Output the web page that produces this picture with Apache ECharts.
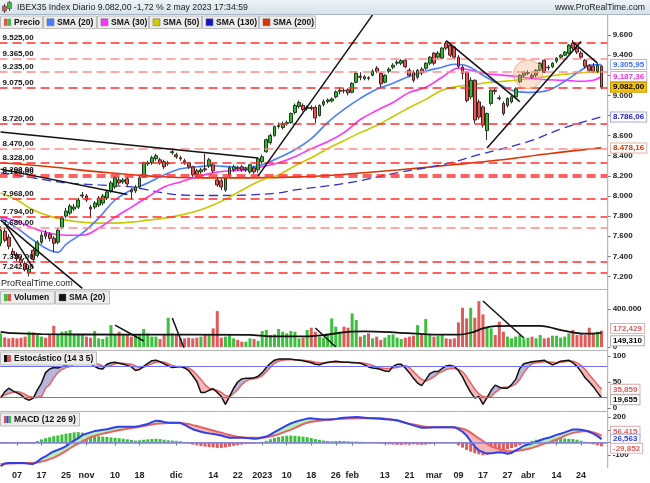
<!DOCTYPE html>
<html><head><meta charset="utf-8">
<script src="https://cdn.jsdelivr.net/npm/echarts@6/dist/echarts.min.js"></script>
<style>html,body{margin:0;padding:0;background:#fff}#c{width:650px;height:483px}</style>
</head><body><div id="c"></div><script>
// ---------- DATA ----------
const oct22=[3,4,5,6,7,10,11,12,13,14,17,18,19,20,21,24,25,26,27,28,31];
const nov22=[1,2,3,4,7,8,9,10,11,14,15,16,17,18,21,22,23,24,25,28,29,30];
const dec22=[1,2,5,6,7,8,9,12,13,14,15,16,19,20,21,22,23,27,28,29,30];
const jan23=[2,3,4,5,6,9,10,11,12,13,16,17,18,19,20,23,24,25,26,27,30,31];
const feb23=[1,2,3,6,7,8,9,10,13,14,15,16,17,20,21,22,23,24,27,28];
const mar23=[1,2,3,6,7,8,9,10,13,14,15,16,17,20,21,22,23,24,27,28,29,30,31];
const apr23=[3,4,5,6,11,12,13,14,17,18,19,20,21,24,25,26,27,28];
const may23=[2];

const xTickDates=['2022-10-07','2022-10-17','2022-10-25','2022-11-01','2022-11-10','2022-11-18','2022-12-01','2022-12-14','2022-12-22','2023-01-02','2023-01-10','2023-01-18','2023-01-26','2023-02-01','2023-02-13','2023-02-21','2023-03-01','2023-03-09','2023-03-17','2023-03-27','2023-04-03','2023-04-14','2023-04-24'];
const xTickLabels=['07','17','25','nov','10','18','dic','14','22','2023','10','18','26','feb','13','21','mar','09','17','27','abr','14','24'];

const open=[7530,7650,7590,7450,7420,7370,7330,7240,7460,7410,
7540,7630,7620,7580,7540,7690,7800,7830,7870,7890,
8000,8000,7890,7890,7910,7930,7980,8050,8090,8160,
8140,8170,8060,8050,8090,8190,8320,8330,8370,8360,
8340,8320,8430,8410,8380,8350,8330,8290,8250,8240,
8270,8300,8310,8160,8150,8060,8210,8260,8280,8290,
8260,8240,8280,8260,8340,8440,8530,8600,8690,8680,
8720,8730,8830,8890,8900,8870,8880,8880,8800,8910,
8940,8945,8985,9040,9050,9055,9030,9130,9190,9165,
9175,9200,9270,9220,9130,9240,9280,9320,9320,9350,
9250,9230,9180,9260,9270,9320,9420,9380,9370,9520,
9500,9480,9380,9280,9230,8985,9150,8935,8885,8650,
8920,9050,8975,8920,8900,8935,8985,9135,9200,9220,
9200,9200,9250,9350,9280,9285,9340,9380,9400,9420,
9520,9470,9420,9350,9300,9290,9240,9290];
const close=[7660,7560,7500,7420,7380,7340,7270,7270,7370,7540,
7610,7600,7580,7530,7660,7780,7850,7900,7890,7960,
8010,7960,7870,7930,7980,8000,8040,8130,8180,8130,
8160,8120,8040,8090,8180,8330,8330,8380,8400,8330,
8290,8330,8440,8390,8370,8330,8290,8210,8210,8260,
8260,8360,8250,8110,8090,8170,8280,8290,8270,8260,
8270,8310,8240,8370,8390,8560,8600,8690,8700,8720,
8730,8820,8900,8930,8860,8880,8870,8775,8900,8940,
8955,8965,9035,9050,9045,9025,9120,9220,9180,9185,
9170,9240,9240,9115,9200,9260,9300,9330,9345,9285,
9200,9150,9250,9225,9320,9380,9320,9420,9470,9470,
9400,9380,9290,9220,8950,9150,8755,8785,8705,8820,
9050,9040,8970,8820,8970,8985,9065,9200,9230,9225,
9180,9250,9320,9230,9275,9320,9370,9400,9430,9500,
9470,9430,9380,9290,9250,9240,9300,9082];
const low=[7500,7540,7470,7390,7350,7310,7250,7200,7340,7390,
7520,7570,7550,7440,7520,7670,7780,7810,7850,7870,
7980,7940,7780,7870,7890,7910,7960,8030,8070,8110,
8120,8100,7960,8030,8070,8180,8300,8310,8350,8310,
8270,8300,8410,8370,8350,8310,8270,8190,8190,8220,
8240,8280,8230,8090,8060,8040,8190,8240,8250,8240,
8240,8220,8220,8230,8320,8430,8510,8590,8670,8660,
8700,8720,8810,8870,8840,8850,8850,8725,8790,8890,
8920,8930,8970,9010,9020,9000,9020,9120,9150,9150,
9150,9190,9220,9075,9120,9220,9260,9300,9300,9270,
9180,9130,9160,9200,9250,9300,9300,9360,9360,9450,
9380,9360,9270,9160,8930,8960,8720,8760,8680,8556,
8900,9010,8950,8800,8880,8920,8970,9120,9180,9200,
9160,9180,9240,9220,9250,9270,9320,9360,9390,9410,
9450,9410,9360,9270,9230,9220,9220,9060];
const high=[7700,7690,7620,7480,7440,7400,7350,7300,7480,7560,
7640,7660,7640,7600,7680,7800,7880,7920,7920,7980,
8040,8020,7910,7950,8000,8020,8060,8150,8200,8190,
8180,8190,8080,8110,8200,8340,8350,8400,8420,8380,
8360,8350,8470,8430,8400,8370,8340,8300,8270,8280,
8420,8380,8330,8180,8170,8180,8300,8310,8300,8310,
8290,8320,8300,8380,8410,8570,8620,8700,8730,8740,
8750,8830,8920,8950,8920,8900,8900,8900,8910,8960,
8970,8980,9050,9080,9070,9070,9130,9240,9230,9200,
9190,9260,9290,9230,9210,9280,9320,9350,9360,9370,
9270,9250,9260,9280,9330,9390,9430,9440,9480,9540,
9510,9490,9400,9300,9240,9180,9160,8960,8900,8830,
9060,9070,9000,8940,8980,9000,9080,9210,9240,9250,
9220,9260,9330,9360,9300,9330,9380,9410,9440,9510,
9550,9480,9440,9360,9310,9320,9320,9300];

const sma20=[[0,7780],[4,7680],[8,7560],[12,7460],[14,7440],[16,7520],[20,7630],[24,7780],[28,7960],[32,8060],[36,8130],[40,8210],[44,8270],[48,8290],[52,8300],[56,8290],[60,8280],[64,8310],[68,8380],[72,8460],[76,8570],[80,8730],[84,8860],[88,8970],[92,9060],[96,9120],[100,9190],[104,9240],[108,9280],[111,9310],[114,9295],[118,9200],[122,9110],[126,9040],[130,9030],[134,9050],[138,9140],[142,9250],[145,9305],[147,9305.95]];
const sma30=[[0,7790],[4,7750],[8,7680],[12,7630],[16,7610],[20,7610],[24,7680],[28,7790],[32,7890],[36,7990],[40,8090],[44,8140],[48,8190],[52,8230],[56,8250],[60,8260],[64,8290],[68,8330],[72,8390],[76,8470],[80,8540],[84,8630],[88,8760],[92,8850],[96,8930],[100,9030],[104,9080],[108,9180],[112,9270],[116,9240],[120,9210],[126,9190],[132,9160],[138,9150],[142,9140],[145,9150],[147,9187.36]];
const sma50=[[0,8030],[4,7960],[8,7860],[12,7800],[16,7760],[20,7740],[24,7730],[28,7730],[32,7740],[36,7760],[40,7780],[44,7810],[48,7850],[52,7910],[56,7990],[60,8080],[64,8160],[68,8210],[72,8300],[76,8380],[80,8470],[84,8550],[88,8630],[92,8700],[96,8790],[100,8880],[104,8960],[108,9050],[112,9090],[116,9110],[120,9130],[126,9150],[132,9180],[138,9210],[142,9225],[147,9232]];
const sma130=[[0,8230],[8,8180],[16,8130],[24,8110],[32,8090],[36,8060],[40,8030],[44,8010],[52,8005],[60,8010],[68,8030],[72,8060],[85,8130],[97,8230],[109,8320],[117,8410],[129,8540],[138,8680],[147,8786.06]];
const sma200=[[0,8330],[12,8290],[24,8240],[36,8200],[48,8180],[60,8180],[73,8190],[85,8218],[97,8258],[110,8308],[122,8357],[134,8420],[147,8478.16]];

const levels=[9525,9365,9235,9075,8720,8470,8328,8208,8188,7968,7794,7680,7350,7242];

const trendLines=[
 [[0,8636],[63,8378]],
 [[0,8267],[31,8015]],
 [[0,7760],[20,7082]],
 [[1,7730],[8,7280]],
 [[63,8200],[91,9800]],
 [[109,9545],[127,8938]],
 [[119,8478],[142,9536]],
 [[140,9530],[146,9321]]
];
const highlight=[[129,9210]];

const volume=[144000,102000,91000,98000,91000,98000,109000,161000,154000,126000,
109000,98000,126000,224000,133000,161000,168000,179000,133000,126000,
126000,109000,98000,168000,91000,84000,109000,231000,133000,161000,
126000,133000,109000,126000,126000,189000,144000,109000,109000,84000,
126000,308000,144000,126000,91000,91000,98000,91000,98000,109000,
126000,133000,196000,378000,98000,109000,126000,91000,74000,56000,
56000,91000,84000,63000,168000,179000,126000,133000,189000,161000,
144000,168000,161000,91000,98000,179000,203000,161000,109000,98000,
133000,301000,214000,161000,214000,203000,354000,284000,109000,126000,
144000,91000,109000,74000,98000,126000,133000,98000,84000,98000,
109000,119000,231000,133000,294000,126000,109000,119000,126000,91000,
84000,91000,259000,413000,301000,413000,308000,483000,343000,203000,
196000,126000,266000,161000,109000,91000,109000,126000,91000,98000,
109000,91000,126000,91000,98000,119000,119000,98000,109000,144000,
179000,126000,133000,126000,203000,144000,161000,172429];
const volSma=[[0,160000],[3,145000],[10,135000],[31,130000],[61,128000],[66,112000],[74,112000],[79,125000],[85,160000],[89,165000],[97,152000],[107,130000],[112,130000],[115,150000],[118,195000],[121,220000],[132,222000],[138,170000],[143,140000],[147,149310]];
const volTrend=[
 [[28,231000],[35,63000]],
 [[42,305000],[46,-137000]],
 [[77,200000],[82,0]],
 [[118,484000],[128,95000]]
];

const stochK=[19,31,38,33,29,25,18,15,19,35,
48,68,75,78,77,80,82,85,88,90,
92,90,85,80,76,75,84,87,88,86,
84,82,79,72,74,80,86,91,92,89,
85,81,78,79,80,77,72,62,51,30,
30,34,37,30,22,7,22,38,50,56,
57,57,58,61,68,78,86,92,94,94,
94,94,93,92,91,89,87,84,83,86,
88,89,90,89,88,88,87,87,86,83,
79,77,76,74,71,70,80,84,84,77,
68,57,48,43,54,66,70,70,76,81,
82,80,72,60,44,30,19,22,7,20,
34,44,40,38,38,45,55,76,85,87,
89,90,91,92,87,83,86,90,91,92,
87,80,70,58,50,41,30,19.655];
const stochD=[22,25,28,30,32,30,26,22,20,20,
22,38,45,58,68,74,78,80,84,86,
88,89,88,86,84,81,80,82,85,86,
86,85,84,81,78,78,82,85,88,89,
88,85,82,80,79,78,77,72,64,55,
45,38,35,34,30,24,22,28,35,45,
52,55,56,58,62,70,78,86,90,92,
93,93,93,93,92,91,90,88,87,86,
87,88,88,88,88,88,88,87,87,86,
84,82,79,77,76,76,77,78,80,82,
78,70,62,55,52,55,60,66,70,74,
76,76,74,70,60,48,36,27,22,20,
22,30,36,40,40,42,46,55,68,78,
85,87,88,89,89,88,87,88,89,90,
90,87,82,74,64,55,45,35.859];
const stochLevels=[80,20];

const macdLine=[-186,-165,-160,-160,-160,-160,-162,-166,-168,-150,
-125,-108,-88,-70,-58,-45,-28,-5,15,35,
58,70,80,90,95,100,104,112,120,124,
124,124,124,124,130,138,145,160,172,170,
162,156,155,155,155,140,122,105,95,85,
77,72,68,62,55,45,38,37,37,37,
36,33,30,32,40,48,62,82,100,118,
135,150,162,172,180,188,190,186,184,182,
182,182,186,190,194,197,199,200,198,195,
192,190,188,186,184,182,180,176,165,155,
145,135,125,116,117,119,121,121,121,121,
121,121,105,85,55,10,-30,-62,-75,-87,
-85,-80,-76,-80,-88,-82,-62,-45,-25,-15,
-5,5,18,30,37,48,60,69,80,92,
103,103,100,95,85,70,50,26.563];
const signalLine=[-168,-166,-165,-164,-163,-162,-161,-160,-160,-156,
-150,-142,-130,-118,-103,-85,-65,-45,-25,-8,
10,25,42,52,62,70,77,84,91,98,
103,108,114,119,124,130,136,142,147,150,
152,154,155,154,152,150,145,137,130,120,
112,103,94,85,78,68,60,52,46,42,
39,37,37,37,37,42,48,56,65,78,
90,102,115,130,145,155,163,168,172,176,
179,182,184,186,187,188,189,190,190,190,
190,190,190,190,188,184,178,172,164,155,
148,142,136,130,125,121,120,120,121,121,
120,118,116,108,98,78,55,32,12,-10,
-30,-42,-52,-60,-68,-68,-66,-63,-56,-50,
-42,-32,-20,-8,-2,12,25,37,52,66,
76,82,87,90,88,80,69,56.415];
const macdHist=[-8,-6,-5,-6,-7,-6,-6,-8,-10,12,
25,34,42,50,56,63,70,75,80,82,
78,72,64,55,50,46,44,40,37,34,
30,26,20,15,18,22,25,28,30,27,
22,18,16,14,10,4,-8,-16,-22,-28,
-32,-36,-38,-42,-42,-38,-32,-26,-20,-16,
-12,-10,-8,-5,5,14,26,36,44,50,
54,55,53,50,46,42,36,28,22,16,
12,10,12,13,12,10,8,8,6,4,
2,0,-4,-8,-12,-14,-16,-18,-18,-16,
-15,-14,-16,-18,-16,-12,-8,-5,-4,-3,
-2,-4,-20,-40,-58,-72,-84,-92,-100,-96,
-88,-78,-66,-58,-52,-44,-34,-22,-10,4,
14,22,26,30,33,37,36,34,32,30,
28,22,14,6,-4,-14,-22,-29.852];

const priceTicks=[7200,7400,7600,7800,8000,8200,8400,8600,8800,9000,9200,9400,9600];

// ---------- BUILD ----------
const pad=n=>(n<10?'0':'')+n;
const dates=[];
[[2022,10,oct22],[2022,11,nov22],[2022,12,dec22],[2023,1,jan23],[2023,2,feb23],[2023,3,mar23],[2023,4,apr23],[2023,5,may23]]
 .forEach(([y,m,arr])=>arr.forEach(d=>dates.push(y+'-'+pad(m)+'-'+pad(d))));
const N=dates.length;
const cats=dates.concat(['']);
const labelAt={};
xTickDates.forEach((d,k)=>{const i=dates.indexOf(d); if(i>=0) labelAt[i]=xTickLabels[k];});
const tickInt=(idx)=>labelAt[idx]!==undefined;

const thou=n=>String(n).replace(/\B(?=(\d{3})+(?!\d))/g,'.');
const dec2=v=>{const s=Math.abs(v).toFixed(2).split('.');return (v<0?'-':'')+thou(s[0])+','+s[1];};
const dec3=v=>(v<0?'-':'')+Math.abs(v).toFixed(3).replace('.',',');

const FONT='"Liberation Sans", Arial, sans-serif';
const GL=-1.45, GW=609.1;
const UP='#3fbf3f', DOWN='#e05a5a';

const grids=[
 {left:GL,top:14.9,width:GW,height:281.7},
 {left:GL,top:290,width:GW,height:57},
 {left:GL,top:356,width:GW,height:52},
 {left:GL,top:412,width:GW,height:56}
].map(g=>Object.assign(g,{outerBoundsMode:'none',containLabel:false,show:false}));

const xa=(gi,show)=>({type:'category',gridIndex:gi,data:cats,boundaryGap:true,
 axisLine:{show:show,lineStyle:{color:'#9a9a9a',width:1}},
 axisTick:{show:show,alignWithLabel:true,interval:tickInt,length:3,lineStyle:{color:'#777'}},
 axisLabel:{show:show,interval:tickInt,formatter:(v,idx)=>labelAt[idx]||'',color:'#222',fontSize:9,fontWeight:'bold',fontFamily:FONT,margin:3},
 splitLine:{show:false},axisPointer:{show:false}});
const ya=(gi,min,max,interval,fmt,showMin,showMax,custom)=>{
 const o={type:'value',gridIndex:gi,position:'right',min,max,interval,scale:false,
 axisLine:{show:false},
 axisTick:{show:true,length:3,lineStyle:{color:'#777'}},
 axisLabel:{formatter:fmt,color:'#222',fontSize:8,fontWeight:'bold',fontFamily:FONT,margin:5,showMinLabel:showMin,showMaxLabel:showMax},
 splitLine:{show:false}};
 if(custom){o.axisTick.customValues=custom;o.axisLabel.customValues=custom;}
 return o;};

function bandData(a,b){const d=[];for(let i=0;i<a.length-1;i++)d.push([i,a[i],b[i],i+1,a[i+1],b[i+1]]);return d;}
function bandRender(cPos,cNeg){
 return function(params,api){
  const i0=api.value(0),i1=api.value(3);
  const a0=api.value(1),b0=api.value(2),a1=api.value(4),b1=api.value(5);
  const p0a=api.coord([i0,a0]),p0b=api.coord([i0,b0]),p1a=api.coord([i1,a1]),p1b=api.coord([i1,b1]);
  const d0=a0-b0,d1=a1-b1;
  const poly=(pts,c)=>({type:'polygon',shape:{points:pts},style:{fill:c,stroke:c,lineWidth:0.4}});
  if(d0*d1>=0) return poly([p0a,p1a,p1b,p0b],(d0+d1)>=0?cPos:cNeg);
  const t=d0/(d0-d1);
  const pc=[p0a[0]+t*(p1a[0]-p0a[0]),p0a[1]+t*(p1a[1]-p0a[1])];
  return {type:'group',children:[poly([p0a,pc,p0b],d0>0?cPos:cNeg),poly([pc,p1a,p1b],d1>0?cPos:cNeg)]};
 };}

const lightSet=new Set([1,2,5,11]);
const lineS=(xi,data,color,width,extra)=>Object.assign({type:'line',xAxisIndex:xi,yAxisIndex:xi,data,symbol:'none',silent:true,clip:true,
 lineStyle:{color,width},itemStyle:{color},z:3},extra||{});

const series=[];
series.push({type:'line',xAxisIndex:0,yAxisIndex:0,data:[[0,8000]],symbol:'none',silent:true,lineStyle:{opacity:0},z:1,
 markLine:{silent:true,symbol:['none','none'],animation:false,
  lineStyle:{type:[9,5],width:1.5},
  label:{show:true,position:'insideStartTop',distance:[4,1],color:'#111',fontSize:8,fontWeight:'bold',fontFamily:FONT},
  data:levels.map((v,k)=>({yAxis:v,lineStyle:{color:lightSet.has(k)?'#ff8c8c':'#ff2e2e'},label:{formatter:dec2(v)}}))}});
series.push(lineS(0,sma200,'#dd3300',1.6,{smooth:0.4}));
series.push(lineS(0,sma130,'#2424cc',1.3,{smooth:0.4,lineStyle:{color:'#3030d0',width:1.3,type:[9,5]}}));
series.push(lineS(0,sma50,'#c9c900',1.6,{smooth:0.4}));
series.push(lineS(0,sma30,'#ff33ff',1.6,{smooth:0.4}));
series.push(lineS(0,sma20,'#4a7dff',1.6,{smooth:0.4}));
series.push({type:'candlestick',xAxisIndex:0,yAxisIndex:0,barWidth:3.3,z:4,silent:true,clip:true,
 data:dates.map((d,i)=>[open[i],close[i],low[i],high[i]]),
 itemStyle:{color:'#35b835',color0:'#e05a5a',borderColor:'#1f3a1f',borderColor0:'#4a2020',borderWidth:1}});
trendLines.forEach(seg=>series.push(lineS(0,seg,'#111',1.5,{z:6})));
series.push({type:'scatter',xAxisIndex:0,yAxisIndex:0,data:highlight,symbolSize:29,silent:true,z:7,
 itemStyle:{color:'rgba(250,170,125,0.42)',borderColor:'#f3a072',borderWidth:1}});

series.push({type:'bar',xAxisIndex:1,yAxisIndex:1,barWidth:3,silent:true,z:2,
 data:volume.map((v,i)=>({value:v,itemStyle:{color:close[i]>=open[i]?UP:DOWN}}))});
series.push(lineS(1,volSma,'#111',1.8,{smooth:0.3,z:4}));
volTrend.forEach(seg=>series.push(lineS(1,seg,'#111',1.5,{z:5})));

series.push({type:'custom',xAxisIndex:2,yAxisIndex:2,data:bandData(stochK,stochD),renderItem:bandRender('#b6b6dc','#f6b6b6'),
 encode:{x:[0,3],y:[1,2,4,5]},clip:true,silent:true,z:1});
series.push(lineS(2,stochD,'#e86262',1.5,{z:3}));
series.push(lineS(2,stochK,'#111',1.5,{z:4,
 markLine:{silent:true,symbol:['none','none'],animation:false,label:{show:false},
  lineStyle:{color:'#7070f0',width:1.2,type:'solid'},data:stochLevels.map(v=>({yAxis:v}))}}));

series.push({type:'bar',xAxisIndex:3,yAxisIndex:3,barWidth:3,silent:true,z:1,
 data:macdHist.map(v=>({value:v,itemStyle:{color:v>=0?UP:DOWN}}))});
series.push({type:'custom',xAxisIndex:3,yAxisIndex:3,data:bandData(macdLine,signalLine),renderItem:bandRender('#b8eeb8','#f6b6b6'),
 encode:{x:[0,3],y:[1,2,4,5]},clip:true,silent:true,z:2});
series.push(lineS(3,signalLine,'#e86262',2,{z:3,
 markLine:{silent:true,symbol:['none','none'],animation:false,label:{show:false},
  lineStyle:{color:'#8080f0',width:1.5,type:'solid'},data:[{yAxis:0}]}}));
series.push(lineS(3,macdLine,'#3040e8',2,{z:4}));

const option={
 animation:false,
 backgroundColor:'#ffffff',
 grid:grids,
 xAxis:[xa(0,false),xa(1,false),xa(2,false),xa(3,true)],
 yAxis:[
  ya(0,7000,9800,200,v=>thou(v),true,true,priceTicks),
  ya(1,0,600000,400000,v=>thou(v),true,false),
  ya(2,0,100,50,v=>String(v),true,true),
  ya(3,-200,240,100,v=>String(v),false,false)
 ],
 series
};

const chart=echarts.init(document.getElementById('c'),null,{renderer:'canvas',width:650,height:483});
chart.setOption(option);

// ---------- OVERLAYS ----------
const G=[];
const hline=(x1,x2,y,c)=>G.push({type:'line',shape:{x1,y1:y,x2,y2:y},style:{stroke:c,lineWidth:1},z:90,silent:true});
G.push({type:'rect',shape:{x:0,y:0,width:650,height:14.5},z:80,silent:true,
 style:{fill:new echarts.graphic.LinearGradient(0,0,0,1,[{offset:0,color:'#eef3f8'},{offset:1,color:'#d6e1ea'}])}});
hline(0,650,14.5,'#a9b7c4');
G.push({type:'line',shape:{x1:607.7,y1:14.5,x2:607.7,y2:468},style:{stroke:'#a4aab0',lineWidth:1},z:90,silent:true});
hline(0,607.7,289.5,'#b4b4b4');
hline(0,607.7,350.5,'#b4b4b4');
hline(0,607.7,411.5,'#b4b4b4');
G.push({type:'line',shape:{x1:4.5,y1:4,x2:4.5,y2:13},style:{stroke:'#444',lineWidth:1},z:91,silent:true});
G.push({type:'rect',shape:{x:2.5,y:6,width:4,height:5},style:{fill:'#e05050',stroke:'#444',lineWidth:0.6},z:92,silent:true});
G.push({type:'line',shape:{x1:9.5,y1:1,x2:9.5,y2:11},style:{stroke:'#444',lineWidth:1},z:91,silent:true});
G.push({type:'rect',shape:{x:7.5,y:2.5,width:4,height:6},style:{fill:'#40c040',stroke:'#444',lineWidth:0.6},z:92,silent:true});
G.push({type:'text',x:17,y:7.6,z:92,silent:true,style:{text:'IBEX35 Index Diario 9.082,00 -1,72 % 2 may 2023 17:34:59',font:'8.7px '+FONT,fill:'#1a1a1a',verticalAlign:'middle'}});
G.push({type:'text',x:645,y:7.6,z:92,silent:true,style:{text:'www.ProRealTime.com',font:'8.7px '+FONT,fill:'#1a1a1a',align:'right',verticalAlign:'middle'}});

function legendRow(y,h,items){
 items.forEach(([txt,x,w,icon])=>{
  G.push({type:'rect',shape:{x:x+0.5,y:y+0.5,width:w-1,height:h-1},style:{fill:'#ececec',stroke:'#bdbdbd',lineWidth:1},z:95,silent:true});
  const iy=y+(h-7)/2;
  if(Array.isArray(icon)){
   const sw=7/icon.length;
   icon.forEach((c,k)=>G.push({type:'rect',shape:{x:x+4+k*sw,y:iy,width:sw,height:7},style:{fill:c},z:96,silent:true}));
  } else {
   G.push({type:'rect',shape:{x:x+4,y:iy,width:7,height:7},style:{fill:icon,stroke:'#666',lineWidth:0.5},z:96,silent:true});
  }
  G.push({type:'text',x:x+14,y:y+h/2+0.5,z:96,silent:true,style:{text:txt,font:'bold 8.5px '+FONT,fill:'#111',verticalAlign:'middle'}});
 });
}
legendRow(15.5,13.5,[['Precio',0,43,['#e05050','#40c040']],['SMA (20)',43,54,'#4a7dff'],['SMA (30)',97,52,'#ff33ff'],['SMA (50)',149,53,'#cccc00'],['SMA (130)',202,57,'#1414c8'],['SMA (200)',259,57,'#dd3300']]);
legendRow(290.5,14,[['Volumen',0,55,['#40c040','#e05050']],['SMA (20)',55,55,'#111']]);
legendRow(351.5,14,[['Estocástico (14 3 5)',0,97,['#111','#e05050']]]);
legendRow(412.5,14,[['MACD (12 26 9)',0,80,['#e05050','#4040e0','#40c040']]]);
G.push({type:'text',x:1,y:284,z:60,silent:true,style:{text:'ProRealTime.com',font:'9px '+FONT,fill:'#222',verticalAlign:'middle'}});

function valLabel(gi,val,text,color,bg,border,dy){
 const p=chart.convertToPixel({gridIndex:gi},[N-1,val]);
 G.push({type:'text',x:611,y:p[1]+(dy||0),z:120,silent:true,
  style:{text,font:'bold 8px '+FONT,fill:color,backgroundColor:bg,borderColor:border,borderWidth:1,padding:[1,2,0,2],verticalAlign:'middle',align:'left'}});
}
const last=a=>{const e=a[a.length-1];return Array.isArray(e)?e[1]:e;};
valLabel(0,last(sma20),dec2(last(sma20)),'#3d6dff','#ffffff','#a8b8e0',0);
valLabel(0,last(sma30),dec2(last(sma30)),'#f030f0','#ffffff','#e0a8e0',0);
valLabel(0,close[N-1],dec2(close[N-1]),'#000000','#f4c20d','#c79a00',0);
valLabel(0,last(sma130),dec2(last(sma130)),'#1a1acc','#ffffff','#a8a8d8',0);
valLabel(0,last(sma200),dec2(last(sma200)),'#dd3300','#ffffff','#e4b4a4',0);
valLabel(1,volume[N-1],dec3(volume[N-1]/1000),'#e06060','#ffffff','#e4b0b0',-2);
valLabel(1,last(volSma),dec3(last(volSma)/1000),'#000000','#ffffff','#b0b0b0',8);
valLabel(2,last(stochD),dec3(last(stochD)),'#e06060','#ffffff','#e4b0b0',0);
valLabel(2,last(stochK),dec3(last(stochK)),'#000000','#ffffff','#b0b0b0',2);
valLabel(3,last(signalLine),dec3(last(signalLine)),'#e06060','#ffffff','#e4b0b0',-4);
valLabel(3,last(macdLine),dec3(last(macdLine)),'#3040e8','#ffffff','#a8a8e0',0);
valLabel(3,last(macdHist),dec3(last(macdHist)),'#e06060','#ffffff','#e4b0b0',2);

chart.setOption({graphic:{elements:G}});
</script></body></html>
